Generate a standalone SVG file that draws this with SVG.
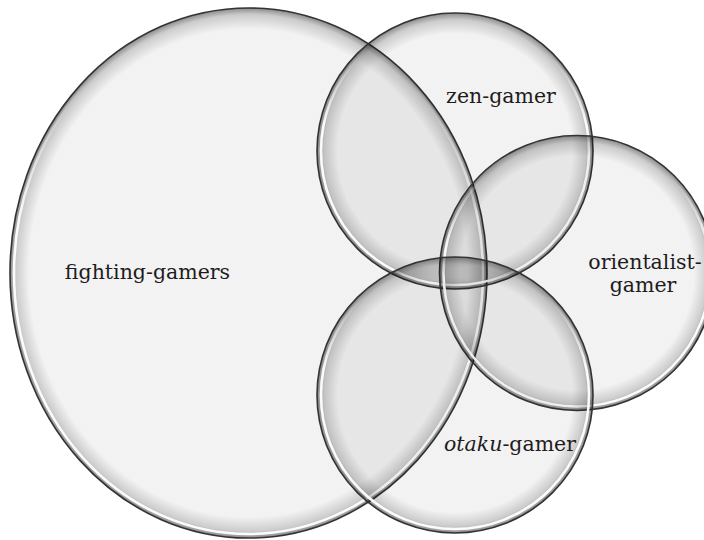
<svg xmlns="http://www.w3.org/2000/svg" width="704" height="540" viewBox="0 0 704 540">
<style>
.shape{fill:url(#shade);stroke:#333;stroke-width:1.6}
.big{fill:url(#shadeBig)}
.hl{fill:none;stroke:url(#hl);stroke-width:2.6;filter:url(#soft)}
.label{font-family:"DejaVu Serif","Liberation Serif",serif;font-size:20.5px;fill:#1e1c1d;text-anchor:middle}
.it{font-style:italic}
</style>
<defs>
<filter id="soft" x="-5%" y="-5%" width="110%" height="110%">
<feGaussianBlur stdDeviation="0.6"/>
</filter>
<radialGradient id="shade" cx="0.5" cy="0.5" r="0.5">
<stop offset="0" stop-color="#000" stop-opacity="0.05"/>
<stop offset="0.85" stop-color="#000" stop-opacity="0.05"/>
<stop offset="0.95" stop-color="#000" stop-opacity="0.2"/>
<stop offset="1" stop-color="#000" stop-opacity="0.45"/>
</radialGradient>
<radialGradient id="shadeBig" cx="0.5" cy="0.5" r="0.5">
<stop offset="0" stop-color="#000" stop-opacity="0.05"/>
<stop offset="0.92" stop-color="#000" stop-opacity="0.05"/>
<stop offset="0.975" stop-color="#000" stop-opacity="0.2"/>
<stop offset="1" stop-color="#000" stop-opacity="0.45"/>
</radialGradient>
<linearGradient id="hl" x1="0" y1="0" x2="0" y2="1">
<stop offset="0" stop-color="#fff" stop-opacity="0"/>
<stop offset="0.12" stop-color="#fff" stop-opacity="0"/>
<stop offset="0.4" stop-color="#fff" stop-opacity="0.95"/>
<stop offset="1" stop-color="#fff" stop-opacity="0.95"/>
</linearGradient>
</defs>
<g id="fighting-gamers">
<ellipse class="shape big" cx="248.5" cy="273" rx="238.5" ry="265"/>
<ellipse class="hl" cx="248.5" cy="273" rx="234.5" ry="261"/>
<text class="label" x="147.5" y="279">fighting-gamers</text>
</g>
<g id="zen-gamer">
<circle class="shape" cx="455" cy="151" r="138"/>
<circle class="hl" cx="455" cy="151" r="134"/>
<text class="label" x="501" y="103">zen-gamer</text>
</g>
<g id="orientalist-gamer">
<circle class="shape" cx="577" cy="273" r="137.5"/>
<circle class="hl" cx="577" cy="273" r="133.5"/>
<text class="label" x="645" y="269">orientalist-</text>
<text class="label" x="643" y="292">gamer</text>
</g>
<g id="otaku-gamer">
<circle class="shape" cx="455" cy="395" r="138"/>
<circle class="hl" cx="455" cy="395" r="134"/>
<text class="label" x="510" y="451"><tspan class="it">otaku</tspan>-gamer</text>
</g>
<g id="connectors"/>
</svg>
